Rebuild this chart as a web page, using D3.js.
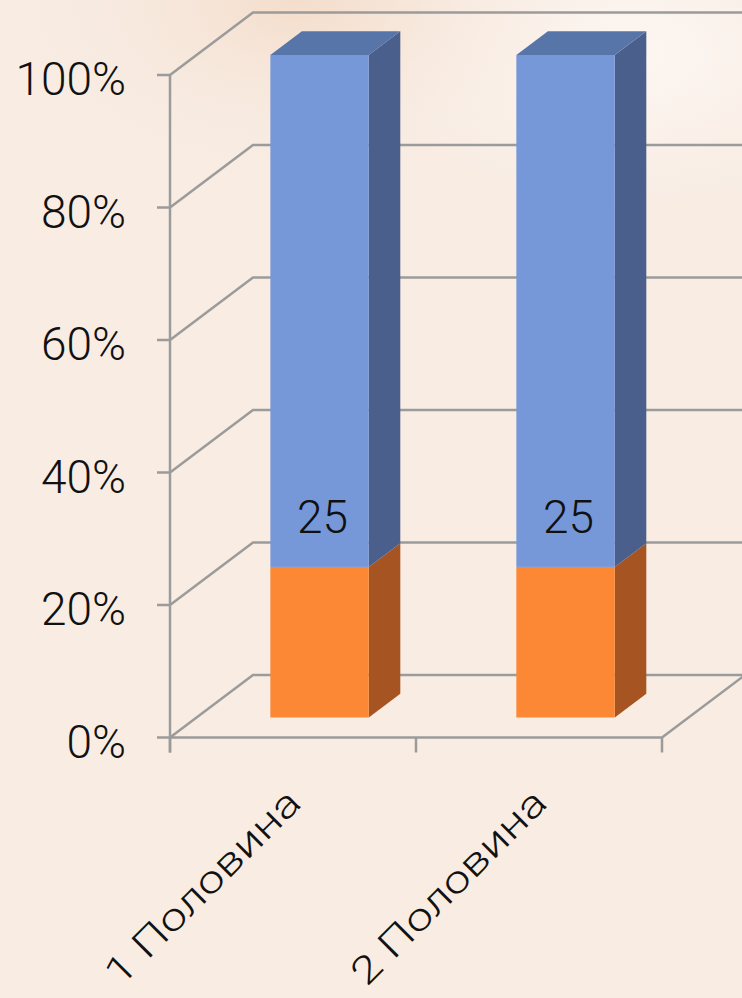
<!DOCTYPE html>
<html>
<head>
<meta charset="utf-8">
<script src="https://cdn.jsdelivr.net/npm/d3@7"></script>
<style>
  html, body { margin: 0; padding: 0; background: #f8ece3; }
  svg { display: block; }
</style>
</head>
<body>
<div id="chart"></div>
<script>
// ---- data ----
const categories = ["1 Половина", "2 Половина"];
const seriesNames = ["orange", "blue"];
const orangeValues = [25, 25];
const blueValues = [85, 85];
const yTickValues = [0, 0.2, 0.4, 0.6, 0.8, 1];
const yTickLabels = ["0%", "20%", "40%", "60%", "80%", "100%"];
const dataLabels = ["25", "25"];

// ---- layout ----
const W = 742, H = 998;
const frontLeft = 170, frontRight = 662;
const depthX = 83, depthY = -62.5;
const dFront = 0.32, dBack = 0.70;

const colors = {
  orange: { front: "#fc8734", side: "#a65421", top: "#c86a2a" },
  blue:   { front: "#7698d9", side: "#4a5f8b", top: "#5875aa" }
};
const gridColor = "#9b9b9b";
const textFont = "Roboto, 'Noto Sans', 'DejaVu Sans', sans-serif";

const svg = d3.select("#chart").append("svg")
  .attr("width", W).attr("height", H);

const defs = svg.append("defs");
const rg = defs.append("radialGradient").attr("id", "glow")
  .attr("cx", 0.4).attr("cy", 0.0).attr("r", 0.42);
rg.append("stop").attr("offset", "0%").attr("stop-color", "#f3d8c3").attr("stop-opacity", 0.75);
rg.append("stop").attr("offset", "100%").attr("stop-color", "#f8ece3").attr("stop-opacity", 0);
const rg2 = defs.append("radialGradient").attr("id", "glow2")
  .attr("cx", 0.85).attr("cy", 0.12).attr("r", 0.35);
rg2.append("stop").attr("offset", "0%").attr("stop-color", "#fdf7f3").attr("stop-opacity", 0.9);
rg2.append("stop").attr("offset", "100%").attr("stop-color", "#fdf7f3").attr("stop-opacity", 0);

svg.append("rect").attr("width", W).attr("height", H).attr("fill", "#f8ece3");
svg.append("rect").attr("width", W).attr("height", H * 0.45).attr("fill", "url(#glow2)");
svg.append("rect").attr("width", W).attr("height", H * 0.45).attr("fill", "url(#glow)");

// ---- scales ----
const y = d3.scaleLinear().domain([0, 1]).range([737.5, 75]);
const x = d3.scaleBand().domain(categories).range([frontLeft, frontRight])
  .paddingInner(0.6).paddingOuter(0.3);

const table = categories.map((c, i) => ({ cat: c, orange: orangeValues[i], blue: blueValues[i] }));
const stack = d3.stack().keys(seriesNames).offset(d3.stackOffsetExpand);
const stacked = stack(table);

const P = (px, v, d) => [px + depthX * d, y(v) + depthY * d];
const poly = pts => "M" + pts.map(p => p.join(",")).join("L") + "Z";

// ---- walls / gridlines ----
const grid = svg.append("g").attr("stroke", gridColor).attr("stroke-width", 2.5).attr("fill", "none");
yTickValues.forEach(t => {
  const a = P(frontLeft, t, 0), b = P(frontLeft, t, 1);
  const c = [frontRight + depthX + 20, b[1]];
  grid.append("path").attr("d", "M" + a + "L" + b + "L" + c);
});
grid.append("path").attr("d", "M" + P(frontLeft, 0, 0) + "L" + P(frontRight, 0, 0) + "L" + P(frontRight, 0, 1));

// ---- axes ----
const axis = svg.append("g").attr("stroke", gridColor).attr("stroke-width", 2.5);
axis.append("line").attr("x1", frontLeft).attr("x2", frontLeft)
  .attr("y1", y(1)).attr("y2", y(0) + 15);
yTickValues.forEach(t => {
  axis.append("line").attr("x1", frontLeft - 13).attr("x2", frontLeft)
    .attr("y1", y(t)).attr("y2", y(t));
});
const step = (frontRight - frontLeft) / categories.length;
d3.range(categories.length + 1).forEach(i => {
  const px = frontLeft + i * step;
  axis.append("line").attr("x1", px).attr("x2", px).attr("y1", y(0)).attr("y2", y(0) + 15);
});

svg.append("g").selectAll("text").data(yTickValues).join("text")
  .attr("x", frontLeft - 44)
  .attr("y", t => y(t) + 20)
  .attr("text-anchor", "end")
  .attr("font-family", textFont)
  .attr("font-weight", 300)
  .attr("font-size", 46)
  .attr("fill", "#111")
  .text((t, i) => yTickLabels[i]);

// ---- bars ----
const bars = svg.append("g");
stacked.forEach((layer, li) => {
  const key = layer.key;
  layer.forEach((seg, ci) => {
    const cat = categories[ci];
    const xl = x(cat), xr = x(cat) + x.bandwidth();
    const v0 = seg[0], v1 = seg[1];
    const g = bars.append("g");
    g.append("path").attr("fill", colors[key].side)
      .attr("d", poly([P(xr, v0, dFront), P(xr, v0, dBack), P(xr, v1, dBack), P(xr, v1, dFront)]));
    if (li === stacked.length - 1) {
      g.append("path").attr("fill", colors[key].top)
        .attr("d", poly([P(xl, v1, dFront), P(xr, v1, dFront), P(xr, v1, dBack), P(xl, v1, dBack)]));
    }
    const f0 = P(xl, v1, dFront), f1 = P(xr, v0, dFront);
    g.append("rect").attr("fill", colors[key].front)
      .attr("x", f0[0]).attr("y", f0[1])
      .attr("width", f1[0] - f0[0]).attr("height", f1[1] - f0[1]);
  });
});

// ---- data labels (orange series) ----
svg.append("g").selectAll("text").data(stacked[0]).join("text")
  .attr("x", (d, i) => x(categories[i]) + x.bandwidth() / 2 + depthX * dFront + 3)
  .attr("y", d => y(d[1]) + depthY * dFront - 34)
  .attr("text-anchor", "middle")
  .attr("font-family", textFont)
  .attr("font-weight", 300)
  .attr("font-size", 46)
  .attr("fill", "#111")
  .text((d, i) => dataLabels[i]);

// ---- category labels ----
svg.append("g").selectAll("text").data(categories).join("text")
  .attr("transform", c => `translate(${x(c) + x.bandwidth() / 2 + 10},805) rotate(-45)`)
  .attr("text-anchor", "end")
  .attr("font-family", textFont)
  .attr("font-weight", 300)
  .attr("font-size", 38)
  .attr("textLength", 258)
  .attr("lengthAdjust", "spacingAndGlyphs")
  .attr("fill", "#111")
  .text(c => c);
</script>
</body>
</html>
